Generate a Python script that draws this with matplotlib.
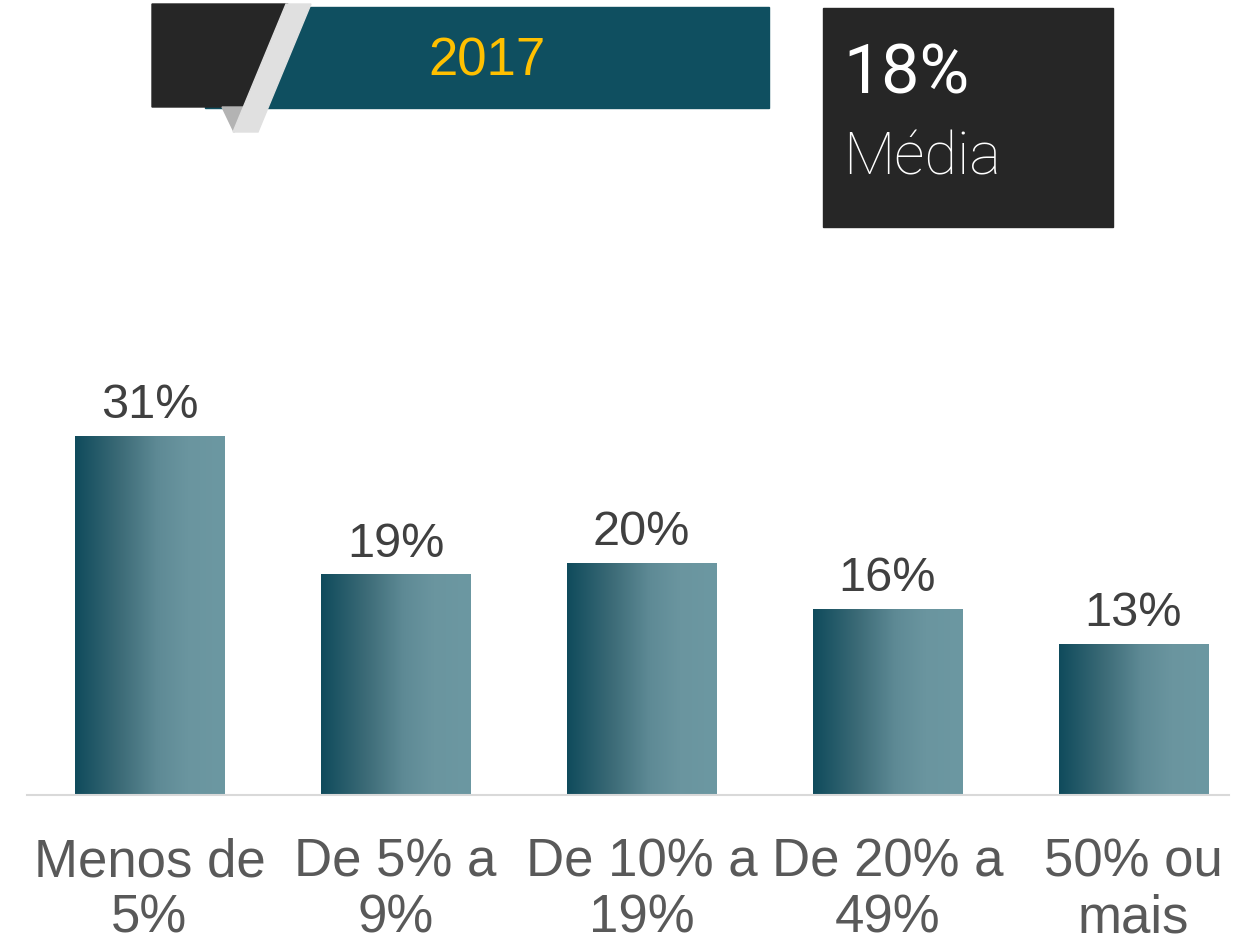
import numpy as np
import matplotlib.pyplot as plt
from matplotlib.colors import LinearSegmentedColormap
from matplotlib.patches import Rectangle, Polygon

categories = ['Menos de\n5%', 'De 5% a\n9%', 'De 10% a\n19%', 'De 20% a\n49%', '50% ou\nmais']
values = [31, 19, 20, 16, 13]
labels = ['31%', '19%', '20%', '16%', '13%']
year = '2017'
media_value = '18%'
media_label = 'Média'

W, H = 1242, 945
fig = plt.figure(figsize=(W / 100, H / 100), dpi=100)

# bar chart axes (pixel geometry from reference)
ax_left, ax_right = 26.5, 1256.5
ax_bottom, ax_top = 796, 250
ax = fig.add_axes([ax_left / W, 1 - ax_bottom / H, (ax_right - ax_left) / W, (ax_bottom - ax_top) / H])

grad = LinearSegmentedColormap.from_list(
    'bar', [(0, '#0f4b5c'), (0.3, '#3c6b77'), (0.55, '#5e8a95'), (0.75, '#6a959f'), (1, '#6c98a2')])
gradient = np.linspace(0, 1, 256).reshape(1, -1)
bar_w = 0.606
for i, v in enumerate(values):
    ax.imshow(gradient, cmap=grad, aspect='auto', interpolation='bilinear',
              extent=(i - bar_w / 2, i + bar_w / 2, 0, v), zorder=2)
    ax.text(i, v + 0.8, labels[i], ha='center', va='bottom', fontsize=35,
            color='#404040', family='Liberation Sans')
ax.set_xlim(-0.5, len(values) - 0.5)
ax.set_ylim(0, 47.15)

for s in ['top', 'right', 'left', 'bottom']:
    ax.spines[s].set_visible(False)
ax.plot([-0.5, 4.39], [0, 0], color='#d9d9d9', lw=1.5, clip_on=False, zorder=3)
ax.set_yticks([])
ax.set_xticks(range(len(values)))
ax.set_xticklabels(categories, fontsize=38, color='#595959', family='Liberation Sans',
                   linespacing=1.15)
ax.tick_params(axis='x', length=0, pad=30)

# header graphics in pixel coordinates
ov = fig.add_axes([0, 0, 1, 1], zorder=5)
ov.set_xlim(0, W)
ov.set_ylim(H, 0)
ov.axis('off')
ov.add_patch(Rectangle((205, 8), 564, 101, color='#0f4f60'))
ov.add_patch(Polygon([(152, 5), (288, 5), (253, 108), (152, 108)], color='#262626'))
ov.add_patch(Polygon([(222, 108), (254, 108), (234, 133)], color='#b3b3b3'))
ov.add_patch(Polygon([(286, 5), (311, 5), (258, 133), (233, 133)], color='#e0e0e0'))
ov.text(487, 62, year, ha='center', va='center', fontsize=38, color='#ffc000',
        family='Liberation Sans')

ov.add_patch(Rectangle((823, 9), 290, 219, color='#262626'))
ov.text(843, 74, media_value, ha='left', va='center', fontsize=49, color='white',
        family='Roboto')
ov.text(843, 158, media_label, ha='left', va='center', fontsize=43, color='white',
        family='Roboto', fontweight='light')

fig.savefig('out.png', dpi=100)
